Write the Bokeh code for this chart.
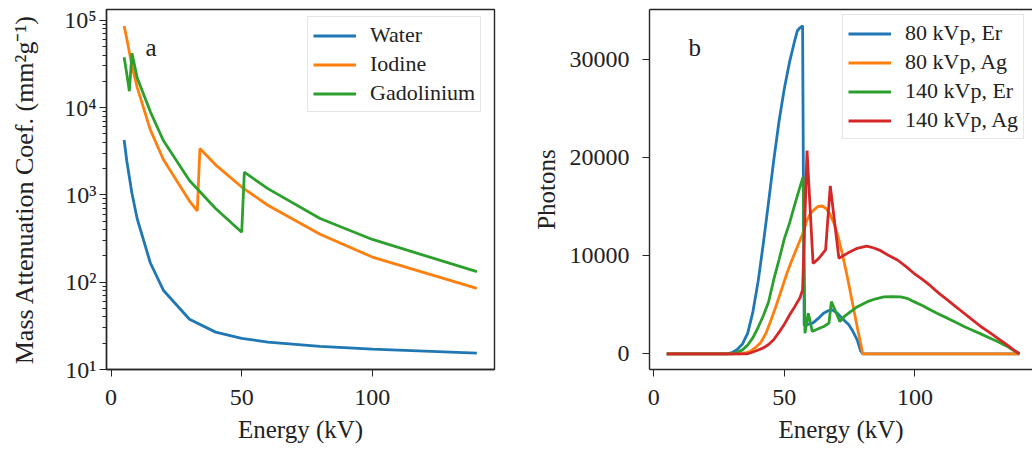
from bokeh.plotting import figure
from bokeh.models import (Range1d, FixedTicker, Legend, LegendItem, Label, LinearAxis)
from bokeh.layouts import row
from bokeh.embed import file_html
from bokeh.resources import INLINE

# ---------------- Panel a: mass attenuation coefficients (mm^2/g) ----------------
energy_water = [5, 6, 8, 10, 15, 20, 30, 40, 50, 60, 80, 100, 140]
water = [4258, 2464, 1037, 533, 167, 81, 37.6, 26.8, 22.7, 20.6, 18.4, 17.1, 15.4]

energy_iodine = [5, 6, 8, 10, 15, 20, 30, 33, 34, 40, 50, 60, 80, 100, 140]
iodine = [86000, 61900, 30200, 17060, 5600, 2540, 851, 655, 3400, 2210, 1230, 761, 355, 194, 85]

energy_gd = [5, 6, 7, 8, 10, 15, 20, 30, 40, 50, 51, 60, 80, 100, 140]
gadolinium = [37700, 24500, 15400, 42000, 22000, 9000, 4200, 1460, 698, 374, 1820, 1180, 537, 309, 132]

series_a = ["Water", "Iodine", "Gadolinium"]

# ---------------- Panel b: spectra (photons) ----------------
e_80_er = [5, 28, 30, 32, 34, 36, 38, 40, 42, 44, 46, 48, 50, 52, 54, 55, 56, 57, 57.6,
           59, 61, 63, 65, 67, 68.3, 70, 71.5, 73, 74.7, 76, 77.9, 79.2, 80, 140]
n_80_er = [0, 0, 120, 450, 1000, 2100, 4300, 7400, 11300, 15500, 19800, 23700, 27000, 29700,
           31900, 32900, 33200, 33400, 2900, 3000, 3150, 3600, 4130, 4400, 4470, 4200, 3790,
           3400, 2950, 2400, 1420, 300, 0, 0]

e_80_ag = [5, 33, 35, 37, 39, 41, 43, 45, 47, 49, 51, 53, 55, 57, 58.5, 60, 61.5, 63, 64.5,
           66, 67.5, 69, 70.5, 72, 74, 76, 78, 79.2, 80, 140]
n_80_ag = [0, 0, 80, 250, 650, 1150, 2100, 3500, 5000, 6600, 8200, 9600, 10900, 12200, 13500,
           14300, 14700, 15000, 15050, 14800, 14200, 13300, 12000, 10400, 8000, 5300, 2600,
           1100, 0, 0]

e_140_er = [5, 30, 32, 34, 36, 38, 40, 42, 44, 46, 48, 50, 52, 54, 56, 57.2, 57.9, 59.2, 60.7,
            63, 65.1, 67.1, 68, 71.3, 73, 75.4, 78, 81.8, 85, 88.1, 91, 94.5, 97, 99.6, 103,
            106, 109, 112.4, 115.6, 118.8, 122, 125.2, 128.4, 131.6, 135, 138, 140]
n_140_er = [0, 0, 150, 400, 900, 1650, 2700, 3900, 5300, 7600, 9600, 11700, 13300, 15200, 17000,
            18000, 2100, 4130, 2270, 2550, 2780, 3120, 5310, 3280, 3800, 4300, 4800, 5310, 5600,
            5800, 5820, 5800, 5650, 5310, 4900, 4470, 4050, 3630, 3200, 2780, 2400, 2030, 1640,
            1250, 800, 300, 0]

e_140_ag = [5, 36, 38, 40, 42, 44, 46, 48, 50, 52, 54, 56, 57, 58.7, 61, 63.2, 65.8, 67.6,
            70.9, 74.1, 77.9, 81.5, 84, 86.9, 90, 93.3, 96.5, 99.6, 103, 106, 109, 112.4,
            115.6, 118.8, 122, 125.2, 128.4, 131.6, 135, 138, 140]
n_140_ag = [0, 0, 180, 380, 600, 950, 1450, 2200, 3000, 3950, 4800, 5700, 6500, 20700, 9200,
            9720, 10570, 17100, 9720, 10230, 10740, 10970, 10800, 10500, 10000, 9550, 8900,
            8200, 7550, 6910, 6200, 5490, 4800, 4130, 3450, 2780, 2200, 1590, 950, 350, 0]

series_b = ["80 kVp, Er", "80 kVp, Ag", "140 kVp, Er", "140 kVp, Ag"]

log_ticks = [10, 100, 1000, 10000, 100000]
log_labels = ["10\u00b9", "10\u00b2", "10\u00b3", "10\u2074", "10\u2075"]
x_ticks = [0, 50, 100]
photon_ticks = [0, 10000, 20000, 30000]

COLORS = ["#1f77b4", "#ff7f0e", "#2ca02c", "#d62728"]
FONT = "Liberation Serif"
FRAME = "#262626"


def style_axis(ax, standoff, label_standoff, label_size="25px"):
    ax.axis_line_color = FRAME
    ax.axis_line_width = 1.4
    ax.major_tick_line_color = FRAME
    ax.major_tick_out = 7
    ax.major_tick_in = 0
    ax.minor_tick_line_color = FRAME
    ax.minor_tick_out = 4
    ax.minor_tick_in = 0
    ax.major_label_text_font = FONT
    ax.major_label_text_font_size = "24px"
    ax.major_label_text_color = "#222222"
    ax.major_label_standoff = standoff
    ax.axis_label_text_font = FONT
    ax.axis_label_text_font_size = label_size
    ax.axis_label_text_font_style = "normal"
    ax.axis_label_text_color = "#222222"
    ax.axis_label_standoff = label_standoff


def make_legend(p, renderers, labels, loc):
    items = [LegendItem(label=l, renderers=[r]) for l, r in zip(labels, renderers)]
    lg = Legend(items=items, location=loc, margin=0, padding=5,
                glyph_width=43, glyph_height=25, label_height=25, spacing=3,
                label_standoff=14, label_text_font=FONT, label_text_font_size="22px",
                label_text_color="#222222",
                border_line_color="#cccccc", border_line_width=1,
                background_fill_color="white", background_fill_alpha=0.85)
    p.add_layout(lg)


# ---------------- Figure a ----------------
p1 = figure(width=508, height=448, x_range=Range1d(-1.75, 146.75),
            y_range=Range1d(10, 1.33e5), y_axis_type="log",
            output_backend="svg", toolbar_location=None,
            min_border_left=106, min_border_right=14, min_border_top=9, min_border_bottom=79)
p1.grid.visible = False
p1.outline_line_color = FRAME
p1.outline_line_width = 1.4
p1.xaxis.ticker = FixedTicker(ticks=x_ticks)
minor = [m * 10 ** k for k in range(1, 5) for m in range(2, 10)]
p1.yaxis.ticker = FixedTicker(ticks=log_ticks, minor_ticks=minor)
p1.yaxis.major_label_overrides = {t: s for t, s in zip(log_ticks, log_labels)}
p1.xaxis.axis_label = "Energy (kV)"
p1.yaxis.axis_label = "Mass Attenuation Coef. (mm\u00b2g\u207b\u00b9)"
for ax in p1.xaxis:
    style_axis(ax, 13, 8)
    ax.minor_tick_line_color = None
for ax in p1.yaxis:
    style_axis(ax, 3, 22, "26px")

ra = []
for (xs, ys), c in zip([(energy_water, water), (energy_iodine, iodine), (energy_gd, gadolinium)], COLORS):
    ra.append(p1.line(xs, ys, line_color=c, line_width=2.8))
make_legend(p1, ra, series_a, (201, 257))
p1.add_layout(Label(x=39, y=322, x_units="screen", y_units="screen", text="a",
                    text_font=FONT, text_font_size="25px", text_color="#222222",
                    text_baseline="alphabetic"))

# ---------------- Figure b ----------------
p2 = figure(width=524, height=448, x_range=Range1d(-1.6, 145.0),
            y_range=Range1d(-1600, 35060),
            output_backend="svg", toolbar_location=None,
            min_border_left=141, min_border_right=0, min_border_top=9, min_border_bottom=79)
p2.grid.visible = False
p2.outline_line_color = None
p2.xaxis.ticker = FixedTicker(ticks=x_ticks)
p2.yaxis.ticker = FixedTicker(ticks=photon_ticks)
p2.xaxis.axis_label = "Energy (kV)"
p2.yaxis.axis_label = "Photons"
for ax in p2.xaxis:
    style_axis(ax, 13, 8)
    ax.minor_tick_line_color = None
for ax in p2.yaxis:
    style_axis(ax, 13, 7)
    ax.minor_tick_line_color = None
top = LinearAxis(ticker=FixedTicker(ticks=[]), major_tick_out=0, major_tick_in=0,
                 minor_tick_out=0, minor_tick_in=0, axis_line_color=FRAME, axis_line_width=1.4,
                 major_label_text_font_size="0px")
p2.add_layout(top, "above")

rb = []
for (xs, ys), c in zip([(e_80_er, n_80_er), (e_80_ag, n_80_ag),
                        (e_140_er, n_140_er), (e_140_ag, n_140_ag)], COLORS):
    rb.append(p2.line(xs, ys, line_color=c, line_width=2.8))
make_legend(p2, rb, series_b, (193, 230))
p2.add_layout(Label(x=39, y=322, x_units="screen", y_units="screen", text="b",
                    text_font=FONT, text_font_size="25px", text_color="#222222",
                    text_baseline="alphabetic"))

layout = row(p1, p2)
open("out.html", "w").write(file_html(layout, INLINE))
